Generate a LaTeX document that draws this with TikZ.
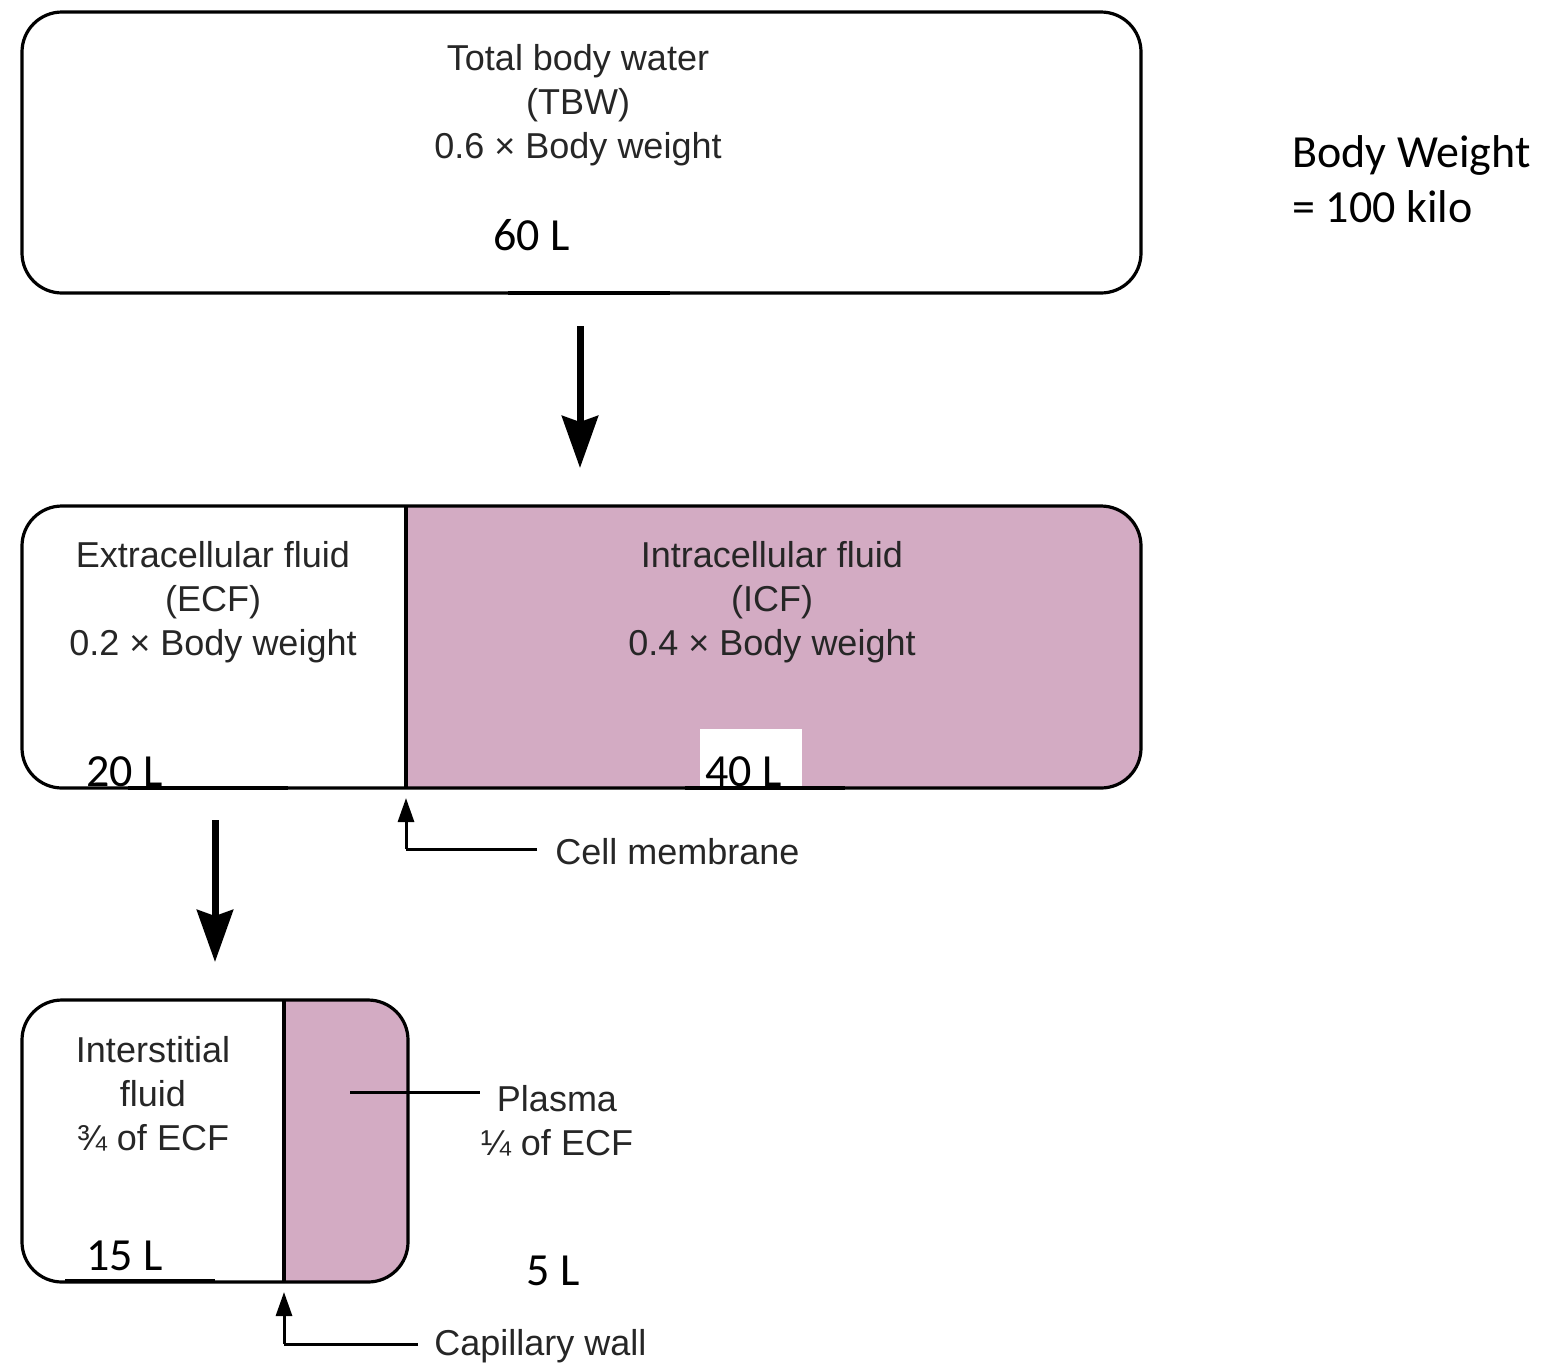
\documentclass[tikz,border=0pt]{standalone}
\usepackage{fontspec}
\setmainfont{Liberation Sans}
\newfontfamily\calib{Carlito}
\usetikzlibrary{arrows.meta}
\definecolor{pinkc}{HTML}{D3ABC3}
\definecolor{txt}{HTML}{262626}
\begin{document}
\begin{tikzpicture}[x=0.5pt,y=-0.5pt,
  outl/.style={line width=1.6pt, rounded corners=20pt},
  lbl/.style={align=center, text=txt, font=\fontsize{18}{22}\selectfont, inner sep=0pt},
  vol/.style={font=\calib\fontsize{23}{27}\selectfont, inner sep=0pt, anchor=base west},
  bigarrow/.style={line width=3.5pt, -{Stealth[width=18pt,length=26pt,inset=3pt]}},
  smallarrow/.style={line width=1.5pt, -{Triangle[width=8pt,length=12pt]}},
  leader/.style={line width=1.5pt},
  thickseg/.style={line width=2.3pt}]
\useasboundingbox (0,0) rectangle (1558,1366);

% ---- top box
\draw[outl] (22,12) rectangle (1141,293);
\draw[thickseg] (508,293) -- (670,293);
\node[lbl] (tbw) at (578,105) {Total body water\\(TBW)\\0.6 × Body weight};
\node[vol] (v60) at (493,250) {60 L};
\node[font=\calib\fontsize{23}{27.5}\selectfont, align=left, inner sep=0pt, anchor=north west] (bw) at (1292,135) {Body Weight\\= 100 kilo};

% ---- arrow 1
\coordinate (a1s) at (580,326);
\coordinate (a1e) at (580,468);
\draw[bigarrow] (a1s) -- (a1e);

% ---- middle box
\begin{scope}
  \clip[rounded corners=20pt] (22,506) rectangle (1141,788);
  \fill[pinkc] (406,506) rectangle (1141,788);
\end{scope}
\fill[white] (700,729) rectangle (802,786);
\draw[outl] (22,506) rectangle (1141,788);
\draw[line width=1.6pt] (406,506) -- (406,788);
\draw[thickseg] (128,788) -- (288,788);
\draw[thickseg] (685,788) -- (845,788);
\node[lbl] (ecf) at (213,602) {Extracellular fluid\\(ECF)\\0.2 × Body weight};
\node[lbl] (icf) at (772,602) {Intracellular fluid\\(ICF)\\0.4 × Body weight};
\node[vol] (v20) at (86,786) {20 L};
\node[vol] (v40) at (705,786) {40 L};

% ---- cell membrane
\coordinate (cmtip) at (406,798);
\coordinate (cmcorner) at (406,849);
\coordinate (cmend) at (537,849);
\node[lbl, anchor=west] (cm) at (555,852) {Cell membrane};
\draw[leader] (cmend) -- (cmcorner);
\draw[smallarrow] (cmcorner) -- (cmtip);

% ---- arrow 2
\coordinate (a2s) at (215,820);
\coordinate (a2e) at (215,962);
\draw[bigarrow] (a2s) -- (a2e);

% ---- bottom box
\begin{scope}
  \clip[rounded corners=20pt] (22,1000) rectangle (408,1282);
  \fill[pinkc] (284,1000) rectangle (408,1282);
\end{scope}
\draw[outl] (22,1000) rectangle (408,1282);
\draw[line width=1.6pt] (284,1000) -- (284,1282);
\draw[thickseg] (65,1281) -- (215,1281);
\node[lbl] (isf) at (153,1094) {Interstitial\\fluid\\¾ of ECF};
\node[vol] (v15) at (86,1270) {15 L};

% ---- plasma
\coordinate (plin) at (350,1092);
\coordinate (plend) at (480,1092);
\node[lbl] (pl) at (557,1121) {Plasma\\¼ of ECF};
\draw[leader] (plin) -- (plend);
\node[vol] (v5) at (526,1285) {5 L};

% ---- capillary wall
\coordinate (cwtip) at (284,1292);
\coordinate (cwcorner) at (284,1344);
\coordinate (cwend) at (418,1344);
\node[lbl, anchor=west] (cw) at (434,1346) {Capillary wall};
\draw[leader] (cwend) -- (cwcorner);
\draw[smallarrow] (cwcorner) -- (cwtip);
\end{tikzpicture}
\end{document}
